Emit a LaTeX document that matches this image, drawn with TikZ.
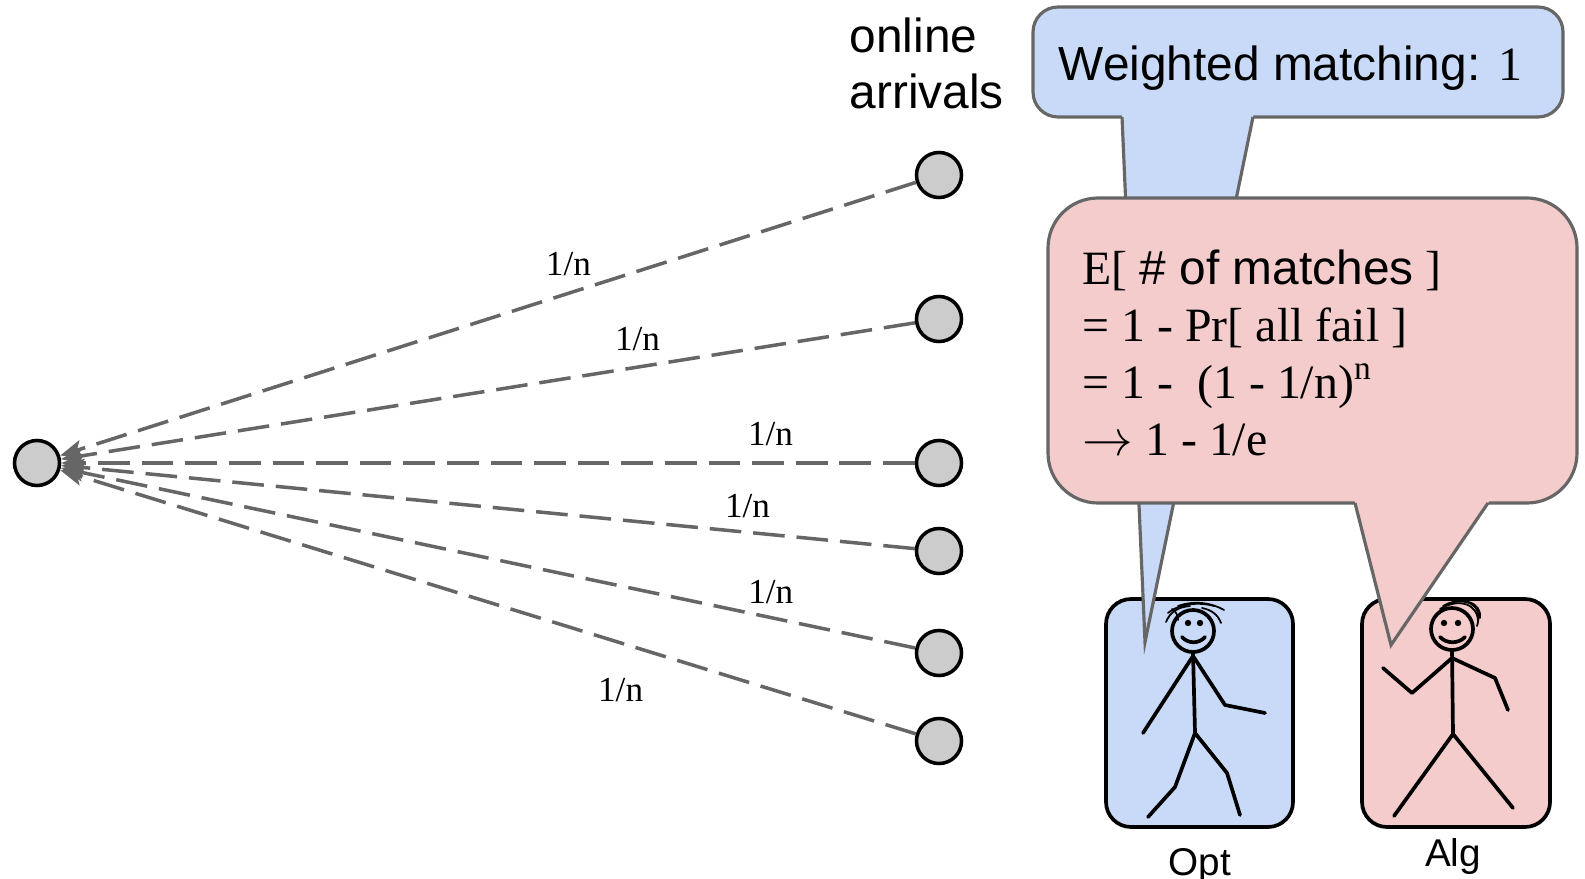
\documentclass[tikz,border=0pt]{standalone}
\usepackage{fontspec}
\setmainfont{Liberation Serif}
\newfontfamily\arialfont{Liberation Sans}
\usetikzlibrary{arrows.meta,calc}
\definecolor{optblue}{HTML}{C9DAF8}
\definecolor{algpink}{HTML}{F4CCCC}
\definecolor{edgegray}{HTML}{666666}
\definecolor{dotgray}{HTML}{CCCCCC}
\tikzset{
  vert/.style={circle, draw=black, fill=dotgray, line width=1pt, minimum size=0.45cm, inner sep=0pt},
  prob/.style={draw=edgegray, line width=1pt, dash pattern=on 9pt off 3.4pt, -{Stealth[length=6.5pt,width=5pt,inset=1.5pt]}},
  lbl/.style={font=\fontsize{10}{12}\selectfont, inner sep=1pt},
  big/.style={font=\fontsize{13.6}{16.2}\selectfont},
  bubble/.style={draw=edgegray, line width=0.9pt},
  personbox/.style={draw=black, line width=1.05pt, rounded corners=0.25cm},
  stick/.style={draw=black, line width=1.05pt, line cap=round, line join=round},
  hair/.style={draw=black, line width=0.5pt, line cap=round},
}
\begin{document}
\begin{tikzpicture}[x=0.01cm, y=-0.01cm]
\useasboundingbox (0,0) rectangle (1585,879);

\node[vert] (s) at (37,463) {};
\node[vert] (a1) at (939,175) {};
\node[vert] (a2) at (939,319) {};
\node[vert] (a3) at (939,463) {};
\node[vert] (a4) at (939,551) {};
\node[vert] (a5) at (939,653) {};
\node[vert] (a6) at (939,741) {};

\draw[prob] (a1) -- node[lbl, pos=0.406, above=3.5pt] {1/n} (s);
\draw[prob] (a2) -- node[lbl, pos=0.325, above=3pt] {1/n} (s);
\draw[prob] (a3) -- node[lbl, pos=0.169, above=3.5pt] {1/n} (s);
\draw[prob] (a4) -- node[lbl, pos=0.196, above=2.5pt] {1/n} (s);
\draw[prob] (a5) -- node[lbl, pos=0.169, above=2.5pt] {1/n} (s);
\draw[prob] (a6) -- node[lbl, pos=0.345, below=8.5pt] {1/n} (s);

\node[big, anchor=base west, align=left, inner sep=0pt] (arr) at (849,109) {\arialfont online\\\arialfont arrivals};

% people
\draw[personbox, fill=optblue] (1106,599) rectangle (1293,827);
\draw[personbox, fill=algpink] (1362,599) rectangle (1550,827);
\node[font=\arialfont\fontsize{11}{13}\selectfont, anchor=base] (opt) at (1200,875) {Opt};
\node[font=\arialfont\fontsize{11}{13}\selectfont, anchor=base] (alg) at (1453,866) {Alg};

% blue callout
\coordinate (bl) at (1122,117);
\coordinate (br) at (1253,117);
\coordinate (btip) at (1145,642);
\draw[bubble, fill=optblue, rounded corners=0.25cm] (1033,7) rectangle (1563,117);
\fill[optblue] ($(btip)!1.03!(bl)$) -- (btip) -- ($(btip)!1.03!(br)$) -- cycle;
\draw[bubble] (bl) -- (btip) -- (br);
\node[big, anchor=base west, inner sep=0pt] (wm) at (1058,81) {\arialfont Weighted matching: \rmfamily 1};

% pink callout
\coordinate (pl) at (1355,503);
\coordinate (pr) at (1488,503);
\coordinate (ptip) at (1391,645);
\draw[bubble, fill=algpink, rounded corners=0.5cm] (1048,198) rectangle (1577,503);
\fill[algpink] ($(ptip)!1.06!(pl)$) -- (ptip) -- ($(ptip)!1.06!(pr)$) -- cycle;
\draw[bubble] (pl) -- (ptip) -- (pr);
\node[big, anchor=base west, align=left, inner sep=0pt] (ex) at (1082,455)
  {E[ {\arialfont\# of matches} ]\\
   = 1 - Pr[ all fail ]\\
   = 1 -\ \ (1 - 1/n)\textsuperscript{n}\\
   $\rightarrow$ 1 - 1/e};

% Opt
\draw[stick] (1193,631) circle (21);
\fill (1188,623) circle (3.2) (1200,623) circle (3.2);
\draw[stick] (1182,637) .. controls (1188,644) and (1199,644) .. (1205,637);
\draw[stick] (1193,652) -- (1195,733);
\draw[stick] (1193,656) -- (1143,733);
\draw[stick] (1193,656) -- (1225,705) -- (1265,713);
\draw[stick] (1195,733) -- (1175,787) -- (1148,817);
\draw[stick] (1195,733) -- (1227,773) -- (1240,815);
\draw[hair] (1166,622) .. controls (1170,612) and (1178,607) .. (1190,606);
\draw[hair] (1168,613) .. controls (1180,603) and (1200,602) .. (1214,606);
\draw[hair] (1178,606) .. controls (1195,600) and (1212,603) .. (1224,610);
\draw[hair] (1202,608) .. controls (1212,610) and (1218,615) .. (1221,623);
\draw[hair] (1172,609) .. controls (1176,611) and (1178,616) .. (1178,620);

% Alg
\draw[stick] (1452,629) circle (21);
\fill (1444,623) circle (3.2) (1458,623) circle (3.2);
\draw[stick] (1440,637) .. controls (1447,644) and (1458,644) .. (1465,637);
\draw[stick] (1452,650) -- (1453,734);
\draw[stick] (1452,658) -- (1412,693) -- (1383,668);
\draw[stick] (1452,658) -- (1495,678) -- (1508,710);
\draw[stick] (1453,734) -- (1394,816);
\draw[stick] (1453,734) -- (1513,808);
\draw[hair] (1440,609) .. controls (1458,598) and (1478,603) .. (1478,622);
\draw[hair] (1443,606) .. controls (1462,596) and (1482,602) .. (1480,618);
\draw[hair] (1447,604) .. controls (1465,597) and (1484,604) .. (1477,626);
\end{tikzpicture}
\end{document}
